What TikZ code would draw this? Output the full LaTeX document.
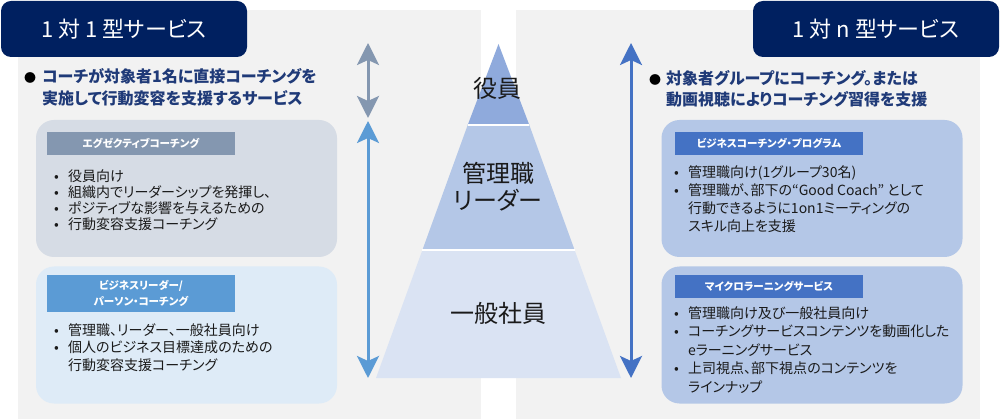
\documentclass[tikz,border=0pt]{standalone}
\usepackage{fontspec}
\setmainfont{Noto Sans CJK JP}[RawFeature=+palt]
\usetikzlibrary{arrows.meta}
\definecolor{navy}{HTML}{002060}
\definecolor{headtxt}{HTML}{1F3A78}
\definecolor{panel}{HTML}{F2F2F2}
\definecolor{boxA}{HTML}{D6DCE5}
\definecolor{barA}{HTML}{8497B0}
\definecolor{boxB}{HTML}{DEEBF7}
\definecolor{barB}{HTML}{5B9BD5}
\definecolor{boxC}{HTML}{B4C7E7}
\definecolor{barC}{HTML}{4472C4}
\definecolor{pyrA}{HTML}{8FAADC}
\definecolor{pyrB}{HTML}{B4C7E7}
\definecolor{pyrC}{HTML}{DAE3F3}
\definecolor{txt}{HTML}{1A1A1A}
\newcommand{\bi}[1]{\makebox[14pt][l]{•}#1}
\newcommand{\ci}[1]{\hspace*{14pt}#1}
\tikzset{
  header/.style={fill=navy, rounded corners=10pt, text=white, font=\fontsize{22}{26}\selectfont, inner sep=0pt},
  headtext/.style={text=headtxt, font=\bfseries\fontsize{16}{22}\selectfont, align=left, anchor=north west, inner sep=0pt},
  dot/.style={text=black, font=\fontsize{12}{12}\selectfont, inner sep=0pt},
  card/.style={rounded corners=18pt, minimum width=301pt, minimum height=137pt, inner sep=0pt},
  bar/.style={text=white, font=\bfseries\fontsize{10.5}{16}\selectfont, align=center, minimum width=188pt, inner sep=0pt},
  items/.style={text=txt, align=left, anchor=north west, inner sep=0pt},
  pyrtext/.style={text=txt, font=\fontsize{24}{27}\selectfont, align=center, inner sep=0pt},
  dbl/.style={{Stealth[width=22pt,length=22pt,inset=5pt]}-{Stealth[width=22pt,length=22pt,inset=5pt]}, line width=3pt},
}
\begin{document}
\begin{tikzpicture}[x=1pt,y=-1pt]
\useasboundingbox (0,0) rectangle (1000,419);
\fill[white] (0,0) rectangle (1000,419);
\fill[panel] (18,10) rectangle (481,419);
\fill[panel] (516,10) rectangle (980,419);

% headers
\node[header, minimum width=246pt, minimum height=56pt] (hL) at (124,29) {1 対 1 型サービス};
\node[header, minimum width=246pt, minimum height=56pt] (hR) at (876,29) {1 対 n 型サービス};

% headings
\node[dot] (dL) at (30,78) {●};
\node[headtext] (tL) at (42,68) {コーチが対象者1名に直接コーチングを\\実施して行動変容を支援するサービス};
\node[dot] (dR) at (655,80) {●};
\node[headtext, font=\bfseries\fontsize{16}{21}\selectfont] (tR) at (666,70) {対象者グループにコーチング。または\\動画視聴によりコーチング習得を支援};

% left cards
\node[card, fill=boxA] (cA) at (186.5,188.5) {};
\node[bar, fill=barA, minimum height=23pt] (bA) at (141,143.5) {エグゼクティブコーチング};
\node[items, font=\fontsize{14}{16}\selectfont] (iA) at (54,170) {\bi{役員向け}\\\bi{組織内でリーダーシップを発揮し、}\\\bi{ポジティブな影響を与えるための}\\\bi{行動変容支援コーチング}};

\node[card, fill=boxB] (cB) at (186.5,335) {};
\node[bar, fill=barB, minimum height=37pt] (bB) at (141,293.5) {ビジネスリーダー/\\パーソン・コーチング};
\node[items, font=\fontsize{14}{17.5}\selectfont] (iB) at (54,323) {\bi{管理職、リーダー、一般社員向け}\\\bi{個人のビジネス目標達成のための}\\\ci{行動変容支援コーチング}};

% right cards
\node[card, fill=boxC] (cC) at (812,188.5) {};
\node[bar, fill=barC, minimum height=23pt] (bC) at (769,143.5) {ビジネスコーチング・プログラム};
\node[items, font=\fontsize{14}{18}\selectfont] (iC) at (674,165) {\bi{管理職向け(1グループ30名)}\\\bi{管理職が、部下の“Good Coach” として}\\\ci{行動できるように1on1ミーティングの}\\\ci{スキル向上を支援}};

\node[card, fill=boxC] (cD) at (812,335) {};
\node[bar, fill=barC, minimum height=23pt] (bD) at (769,286.5) {マイクロラーニングサービス};
\node[items, font=\fontsize{14}{18.5}\selectfont] (iD) at (674,306) {\bi{管理職向け及び一般社員向け}\\\bi{コーチングサービスコンテンツを動画化した}\\\ci{eラーニングサービス}\\\bi{上司視点、部下視点のコンテンツを}\\\ci{ラインナップ}};

% pyramid
\fill[pyrC] (422.4,250) -- (574.6,250) -- (621,378) -- (376,378) -- cycle;
\fill[pyrB] (467.7,125) -- (529.3,125) -- (574.6,250) -- (422.4,250) -- cycle;
\fill[pyrA] (498.5,44) -- (529.3,125) -- (467.7,125) -- cycle;
\draw[white, line width=1.5pt] (467.7,125) -- (529.3,125);
\draw[white, line width=1.5pt] (422.4,250) -- (574.6,250);
\node[pyrtext] (p1) at (497,88) {役員};
\node[pyrtext] (p2) at (498,187) {管理職\\リーダー};
\node[pyrtext] (p3) at (498,313) {一般社員};

% arrows
\coordinate (gaT) at (368,43);
\coordinate (gaB) at (368,118);
\coordinate (baT) at (368,121);
\coordinate (baB) at (368,378);
\coordinate (raT) at (631,43);
\coordinate (raB) at (631,378);
\draw[dbl, barA] (gaT) -- (gaB);
\draw[dbl, barB] (baT) -- (baB);
\draw[dbl, barC] (raT) -- (raB);
\end{tikzpicture}
\end{document}
